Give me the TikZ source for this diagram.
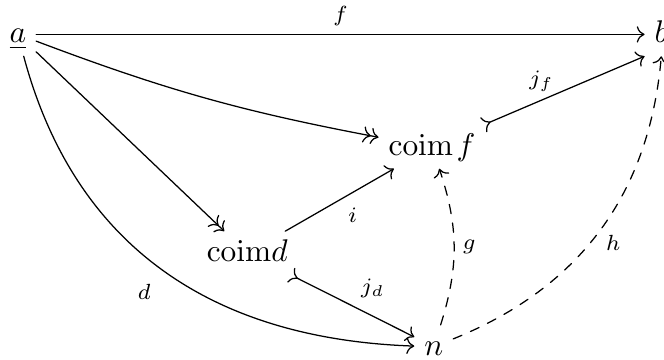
\documentclass[tikz,border=0pt]{standalone}
\usepackage{amsmath}
\usetikzlibrary{arrows.meta}

\begin{document}
\begin{tikzpicture}[line cap=round,line join=round,
  >={Computer Modern Rightarrow},
  obj/.style={anchor=base,inner sep=3pt,text height=1.5ex,text depth=0.25ex},
  lbl/.style={font=\scriptsize,inner sep=2.5pt}]
\useasboundingbox (0,0) rectangle (7.44,-4.03);

% --- objects ---
\node[obj] (a)  at (0.20,-0.48) {$\underline{a}$};
\node[obj] (b)  at (7.41,-0.48) {$b$};
\node[obj] (cf) at (4.84,-1.74) {$\mathrm{coim}\mkern2mu f$};
\node[obj] (cd) at (2.77,-2.93) {$\mathrm{coim}d$};
\node[obj] (n)  at (4.86,-3.98) {$n$};

% --- arrows out of a ---
\draw[->] (a) -- node[lbl,above] {$f$} (b);
\draw[->>] (a) to[bend right=5] (cf);
\draw[->>] (a) -- (cd);
\draw[->] (a) to[out=-75,in=178,looseness=1.05] node[lbl,pos=0.58,left=12pt] {$d$} (n);

% --- through the coimages ---
\draw[->] (cd) -- node[lbl,below right] {$i$} (cf);
\draw[>->] (cd) -- node[lbl,above right] {$j_d$} (n);
\draw[>->] (cf) -- node[lbl,pos=0.45,anchor=south east,inner sep=0.5pt] {$j_f$} (b.south west);

% --- dashed factorisations from n ---
\draw[->,dashed] (n) to[bend right=18] node[lbl,right] {$g$} (cf);
\draw[->,dashed] (n) to[out=22,in=-95] node[lbl,below right=-1pt,pos=0.5] {$h$} (b.south);
\end{tikzpicture}
\end{document}
